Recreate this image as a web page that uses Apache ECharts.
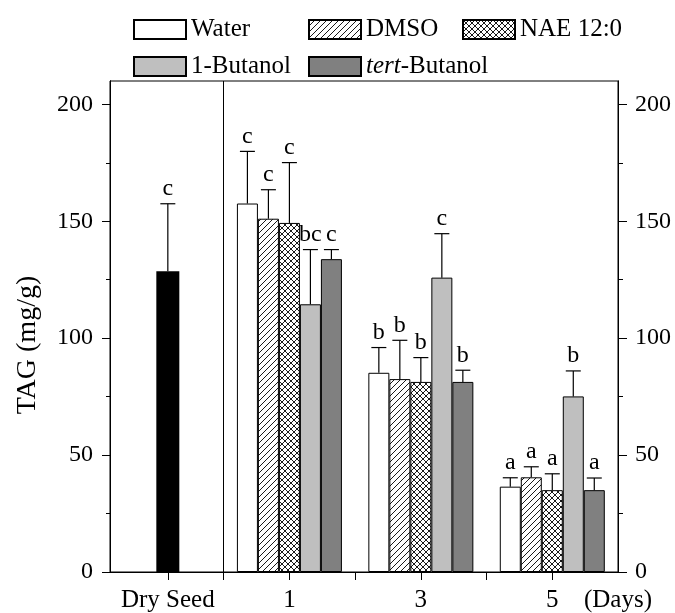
<!DOCTYPE html>
<html>
<head>
    <meta charset="utf-8">
    <title>TAG</title>
    <script type="text/javascript" src="https://cdn.jsdelivr.net/npm/echarts@6/dist/echarts.min.js"></script>
    <style type="text/css">
        html, body { margin: 0; padding: 0; background: #fff; }
        #main { width: 675px; height: 613px; }
    </style>
</head>
<body>
<div id="main"></div>

<script type="text/javascript">
    // x positions: days 1/3/5, dry seed sits left of the divider at 0
    var groupDays = [1, 3, 5];
    var dryX = -0.85;

    var water = [157.6, 85.2, 36.5];
    var waterSd = [22.3, 10.8, 3.8];
    var waterLetters = ['c', 'b', 'a'];

    var dmso = [151.1, 82.5, 40.5];
    var dmsoSd = [12.4, 16.6, 4.5];
    var dmsoLetters = ['c', 'b', 'a'];

    var nae = [149.3, 81.3, 35.0];
    var naeSd = [25.8, 10.4, 7.0];
    var naeLetters = ['c', 'b', 'a'];

    var butanol = [114.5, 125.9, 75.1];
    var butanolSd = [23.4, 18.8, 10.9];
    var butanolLetters = ['bc', 'c', 'b'];

    var tert = [133.8, 81.3, 35.0];
    var tertSd = [4.1, 5.0, 5.2];
    var tertLetters = ['c', 'b', 'a'];

    var drySeed = 128.6;
    var drySeedSd = 28.9;
    var drySeedLetter = 'c';

    var xLabelValues = [dryX, 1, 3, 5, 6];
    var xLabelTexts = ['Dry Seed', '1', '3', '5', '(Days)'];
    var xTickValues = [dryX, 0, 1, 2, 3, 4, 5];
    var yMajor = [0, 50, 100, 150, 200];
    var yMinor = [25, 75, 125, 175];

    var FONT = "'Liberation Serif', 'DejaVu Serif', serif";
    var BAR_W = 21;
    var CAP = 7.5;

    // fill patterns for DMSO / NAE
    function hatch(cross) {
        var s = 6;
        var c = document.createElement('canvas');
        c.width = s; c.height = s;
        var g = c.getContext('2d');
        g.fillStyle = '#fff';
        g.fillRect(0, 0, s, s);
        g.strokeStyle = '#000';
        g.lineWidth = 0.9;
        g.beginPath();
        g.moveTo(-1, s + 1); g.lineTo(s + 1, -1);
        g.moveTo(-1, 1); g.lineTo(1, -1);
        g.moveTo(s - 1, s + 1); g.lineTo(s + 1, s - 1);
        if (cross) {
            g.moveTo(-1, -1); g.lineTo(s + 1, s + 1);
            g.moveTo(s - 1, -1); g.lineTo(s + 1, 1);
            g.moveTo(-1, s - 1); g.lineTo(1, s + 1);
        }
        g.stroke();
        return { image: c, repeat: 'repeat' };
    }

    function pts(vals) {
        return vals.map(function (v, i) { return [groupDays[i], v]; });
    }

    // error bar rows: [x, mean, sd, slot]
    var errRows = [], errLetters = [];
    [[water, waterSd, waterLetters], [dmso, dmsoSd, dmsoLetters], [nae, naeSd, naeLetters],
     [butanol, butanolSd, butanolLetters], [tert, tertSd, tertLetters]].forEach(function (s, k) {
        s[0].forEach(function (v, i) {
            errRows.push([groupDays[i], v, s[1][i], k - 2]);
            errLetters.push(s[2][i]);
        });
    });
    errRows.push([dryX, drySeed, drySeedSd, 0]);
    errLetters.push(drySeedLetter);

    var myChart = echarts.init(document.getElementById('main'));

    function barSeries(name, data, color) {
        return {
            name: name,
            type: 'bar',
            xAxisIndex: 0,
            yAxisIndex: 0,
            barWidth: BAR_W,
            barGap: '0%',
            data: pts(data),
            itemStyle: { color: color, borderColor: '#000', borderWidth: 1 }
        };
    }

    function legendCol(names, left) {
        return {
            data: names,
            orient: 'vertical',
            left: left,
            top: 17,
            padding: 0,
            itemWidth: 52,
            itemHeight: 19,
            itemGap: 12,
            icon: 'rect',
            selectedMode: false,
            textStyle: {
                color: '#000', fontFamily: FONT, fontSize: 25,
                rich: { i: { fontStyle: 'italic', fontFamily: FONT, fontSize: 25, color: '#000' } }
            },
            formatter: function (n) {
                return n === 'tert-Butanol' ? '{i|tert}-Butanol' : n;
            }
        };
    }

    var yCommon = {
        type: 'value', min: 0, max: 210,
        splitLine: { show: false },
        axisLine: { show: true, onZero: false, lineStyle: { color: '#000', width: 1 } }
    };

    var option = {
        animation: false,
        grid: { left: 110, right: 57, top: 81, bottom: 41, show: true, borderColor: '#000', borderWidth: 1 },
        legend: [
            legendCol(['Water', '1-Butanol'], 133),
            legendCol(['DMSO', 'tert-Butanol'], 308),
            legendCol(['NAE 12:0'], 462)
        ],
        graphic: [{
            type: 'text', x: 28, y: 345, rotation: Math.PI / 2,
            style: { text: 'TAG (mg/g)', font: '28px ' + FONT, fill: '#000', align: 'center', verticalAlign: 'middle' }
        }],
        xAxis: [{
            type: 'value', min: -1.73, max: 6,
            splitLine: { show: false },
            axisLine: { show: true, onZero: false, lineStyle: { color: '#000', width: 1 } },
            axisTick: { show: true, length: 8, customValues: xTickValues, lineStyle: { color: '#000' } },
            axisLabel: {
                customValues: xLabelValues, margin: 16,
                color: '#000', fontFamily: FONT, fontSize: 25,
                formatter: function (v) {
                    for (var i = 0; i < xLabelValues.length; i++) {
                        if (Math.abs(xLabelValues[i] - v) < 1e-6) return xLabelTexts[i];
                    }
                    return '';
                }
            }
        }, {
            type: 'value', min: -1.73, max: 6, show: false,
            axisLine: { onZero: false }
        }],
        yAxis: [
            echarts.util.merge({
                position: 'left',
                axisTick: { length: 8, customValues: yMajor, lineStyle: { color: '#000' } },
                axisLabel: { customValues: yMajor, margin: 17, color: '#000', fontFamily: FONT, fontSize: 24 }
            }, yCommon),
            echarts.util.merge({
                position: 'right',
                axisTick: { length: 9, customValues: yMajor, lineStyle: { color: '#000' } },
                axisLabel: { customValues: yMajor, margin: 17, color: '#000', fontFamily: FONT, fontSize: 24 }
            }, yCommon),
            echarts.util.merge({
                position: 'left', offset: 0,
                axisTick: { length: 4, customValues: yMinor, lineStyle: { color: '#000' } },
                axisLabel: { show: false }
            }, yCommon),
            echarts.util.merge({
                position: 'right', offset: 0,
                axisTick: { length: 5, customValues: yMinor, lineStyle: { color: '#000' } },
                axisLabel: { show: false }
            }, yCommon)
        ],
        series: [
            barSeries('Water', water, '#fff'),
            barSeries('DMSO', dmso, hatch(false)),
            // middle series has zero bar offset, so the divider markLine lands on x = 0
            echarts.util.merge({
                markLine: {
                    silent: true, symbol: 'none', label: { show: false },
                    lineStyle: { color: '#000', type: 'solid', width: 1 },
                    data: [{ xAxis: 0 }]
                }
            }, barSeries('NAE 12:0', nae, hatch(true))),
            barSeries('1-Butanol', butanol, '#bfbfbf'),
            barSeries('tert-Butanol', tert, '#808080'),
            {
                name: 'Dry Seed',
                type: 'bar',
                xAxisIndex: 1,
                yAxisIndex: 0,
                barWidth: 23,
                data: [[dryX, drySeed]],
                itemStyle: { color: '#000' }
            },
            {
                name: 'err',
                type: 'custom',
                xAxisIndex: 0,
                yAxisIndex: 0,
                z: 5,
                data: errRows,
                encode: { x: 0, y: 1 },
                renderItem: function (params, api) {
                    var x = api.value(0), mean = api.value(1), sd = api.value(2), slot = api.value(3);
                    var base = api.coord([x, mean]);
                    var top = api.coord([x, mean + sd]);
                    var cx = base[0] + slot * BAR_W;
                    return {
                        type: 'group',
                        children: [
                            { type: 'line', shape: { x1: cx, y1: base[1], x2: cx, y2: top[1] }, style: { stroke: '#000', lineWidth: 1.2 } },
                            { type: 'line', shape: { x1: cx - CAP, y1: top[1], x2: cx + CAP, y2: top[1] }, style: { stroke: '#000', lineWidth: 1.2 } },
                            {
                                type: 'text', x: cx, y: top[1] - 3,
                                style: { text: errLetters[params.dataIndex], font: '24px ' + FONT, fill: '#000', align: 'center', verticalAlign: 'bottom' }
                            }
                        ]
                    };
                }
            }
        ]
    };

    myChart.setOption(option);
</script>
</body>
</html>
